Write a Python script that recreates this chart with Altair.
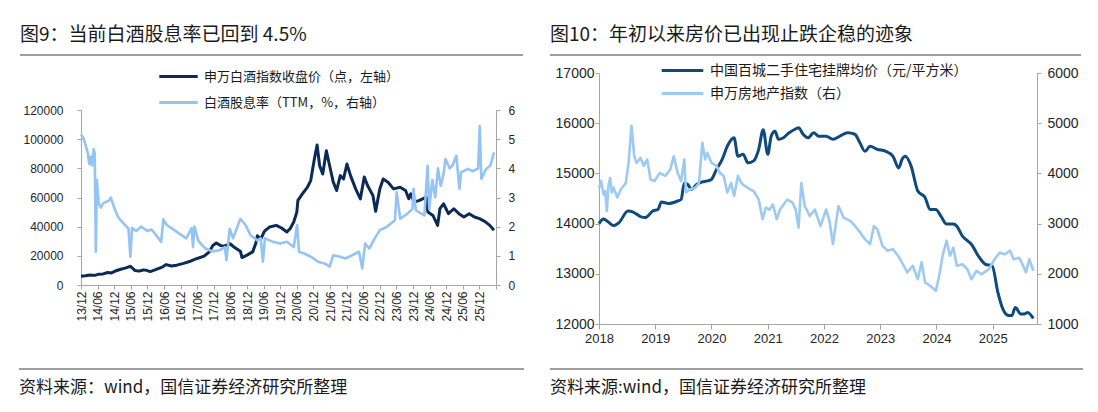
import altair as alt
import pandas as pd

CJK = "Noto Sans CJK SC"
NUM = "Liberation Sans"
TXT = "#1a1a1a"
AXC = "#a6a6a6"

# ---------------- 图9 data ----------------
title9 = "图9：当前白酒股息率已回到 4.5%"
source9 = "资料来源：wind，国信证券经济研究所整理"
name9_index = "申万白酒指数收盘价（点，左轴）"
name9_yield = "白酒股息率（TTM，%，右轴）"

idx_dates = [
    "2013-12-01", "2014-01-16", "2014-03-16", "2014-05-01", "2014-06-07", "2014-08-01",
    "2014-09-22", "2014-11-01", "2014-12-07", "2015-02-01", "2015-04-01", "2015-05-25",
    "2015-06-16", "2015-07-16", "2015-09-01", "2015-10-16", "2015-11-13", "2016-01-01",
    "2016-03-01", "2016-05-19", "2016-06-25", "2016-08-22", "2016-10-19", "2017-01-01",
    "2017-03-19", "2017-06-01", "2017-08-16", "2017-10-13", "2017-11-19", "2017-12-28",
    "2018-02-16", "2018-04-01", "2018-05-28", "2018-07-22", "2018-09-19", "2018-10-07",
    "2018-12-01", "2019-02-01", "2019-03-07", "2019-03-25", "2019-05-01", "2019-06-10",
    "2019-08-07", "2019-10-19", "2019-12-16", "2020-02-13", "2020-03-19", "2020-04-28",
    "2020-06-01", "2020-06-13", "2020-08-01", "2020-09-25", "2020-11-01", "2020-12-10",
    "2021-01-10", "2021-02-07", "2021-03-13", "2021-04-22", "2021-05-28", "2021-07-07",
    "2021-08-13", "2021-09-22", "2021-10-28", "2021-12-04", "2022-01-13", "2022-03-10",
    "2022-05-01", "2022-06-13", "2022-07-19", "2022-09-16", "2022-10-16", "2022-12-01",
    "2023-01-07", "2023-03-01", "2023-05-01", "2023-07-13", "2023-09-10", "2023-10-16",
    "2023-11-07", "2023-12-13", "2024-02-10", "2024-04-25", "2024-05-13", "2024-07-07",
    "2024-08-28", "2024-09-22", "2024-11-01", "2024-12-25", "2025-02-22", "2025-04-19",
    "2025-06-13", "2025-08-10", "2025-10-07", "2025-12-01", "2026-01-28", "2026-03-25",
    "2026-05-10",
]
idx_values = [
    6000, 6300, 6800, 6600, 7300, 7600,
    8600, 8300, 9400, 10600, 11600, 12800,
    11800, 10000, 9500, 10300, 10200, 9200,
    10500, 12500, 14000, 13000, 13600, 14800,
    16300, 18200, 19800, 22700, 27000, 28800,
    27000, 26800, 28300, 25500, 23200, 18800,
    20500, 22700, 28400, 33800, 31500, 36800,
    39800, 40900, 39100, 36400, 38600, 43200,
    50000, 58000, 62500, 67000, 71600, 86000,
    96000, 81800, 76100, 92000, 81800, 70500,
    64800, 75000, 72700, 83000, 75000, 65900,
    59100, 74000, 68200, 61400, 50500, 65900,
    72700, 70500, 65900, 67000, 64800, 59100,
    62500, 56800, 58000, 60200, 50000, 47700,
    40900, 52300, 55700, 48900, 52300, 48900,
    46600, 48900, 46600, 45500, 43600, 40900,
    37500,
]

yld_dates = [
    "2013-12-01", "2013-12-25", "2014-01-16", "2014-02-16", "2014-03-01", "2014-03-16",
    "2014-04-01", "2014-04-19", "2014-05-01", "2014-05-13", "2014-05-25", "2014-06-13",
    "2014-07-07", "2014-08-01", "2014-10-07", "2014-10-25", "2014-12-07", "2015-01-10",
    "2015-02-01", "2015-04-01", "2015-05-07", "2015-05-28", "2015-06-16", "2015-08-01",
    "2015-09-22", "2015-12-01", "2016-01-16", "2016-02-13", "2016-04-01", "2016-05-01",
    "2016-05-25", "2016-07-01", "2016-09-01", "2016-11-16", "2017-02-01", "2017-04-01",
    "2017-04-16", "2017-05-01", "2017-06-16", "2017-09-01", "2017-11-16", "2018-02-01",
    "2018-04-01", "2018-04-19", "2018-05-25", "2018-07-01", "2018-09-19", "2018-11-16",
    "2019-01-10", "2019-03-25", "2019-05-01", "2019-05-25", "2019-06-16", "2019-09-13",
    "2019-11-28", "2020-02-13", "2020-04-28", "2020-06-04", "2020-06-25", "2020-08-19",
    "2020-11-04", "2021-01-19", "2021-04-01", "2021-05-28", "2021-07-07", "2021-09-22",
    "2021-11-16", "2022-02-01", "2022-04-16", "2022-05-22", "2022-06-22", "2022-08-07",
    "2022-10-04", "2022-12-01", "2023-02-13", "2023-05-16", "2023-06-04", "2023-07-13",
    "2023-09-28", "2023-11-25", "2023-12-07", "2024-01-01", "2024-04-04", "2024-05-10",
    "2024-05-28", "2024-07-01", "2024-08-01", "2024-09-01", "2024-10-01", "2024-11-01",
    "2024-11-22", "2025-01-07", "2025-02-07", "2025-03-22", "2025-04-25", "2025-05-13",
    "2025-07-25", "2025-09-16", "2025-11-16", "2025-12-04", "2025-12-22", "2026-02-13",
    "2026-04-01", "2026-05-10",
]
yld_values = [
    5.17, 5.05, 4.85, 4.50, 4.15, 4.40,
    4.10, 4.66, 4.50, 1.14, 3.60, 2.80,
    2.65, 2.80, 2.90, 3.00, 2.60, 2.35,
    2.25, 2.05, 1.93, 0.97, 1.95, 1.85,
    2.00, 1.85, 1.90, 1.80, 1.60, 1.48,
    2.25, 2.05, 1.93, 1.76, 1.60, 1.95,
    1.30, 2.00, 1.50, 1.25, 1.15, 1.19,
    1.30, 0.85, 1.93, 1.60, 2.27, 2.05,
    1.70, 1.53, 1.60, 0.80, 1.60, 1.48,
    1.42, 1.48, 1.30, 2.05, 1.14, 1.08,
    0.97, 0.80, 0.74, 0.63, 1.02, 0.97,
    0.91, 1.02, 1.14, 0.57, 1.42, 1.25,
    1.59, 1.88, 1.99, 2.22, 3.18, 2.27,
    2.44, 2.61, 3.30, 2.56, 2.39, 4.09,
    2.60, 3.60, 3.00, 4.00, 3.40, 3.80,
    4.32, 4.00, 4.09, 4.43, 3.30, 3.86,
    3.98, 3.90, 4.00, 5.45, 3.64, 3.98,
    4.10, 4.55,
]

ticks9 = [
    "2013-12", "2014-06", "2014-12", "2015-06", "2015-12", "2016-06", "2016-12",
    "2017-06", "2017-12", "2018-06", "2018-12", "2019-06", "2019-12", "2020-06",
    "2020-12", "2021-06", "2021-12", "2022-06", "2022-12", "2023-06", "2023-12",
    "2024-06", "2024-12", "2025-06", "2025-12", "2026-06",
]
left9_ticks = [0, 20000, 40000, 60000, 80000, 100000, 120000]
right9_ticks = [0, 1, 2, 3, 4, 5, 6]

# ---------------- 图10 data ----------------
title10 = "图10：年初以来房价已出现止跌企稳的迹象"
source10 = "资料来源:wind，国信证券经济研究所整理"
name10_price = "中国百城二手住宅挂牌均价（元/平方米）"
name10_index = "申万房地产指数（右）"

price_dates = [
    "2018-01-01", "2018-01-30", "2018-03-03", "2018-04-05", "2018-05-11", "2018-07-08",
    "2018-08-11", "2018-09-27", "2018-10-30", "2018-12-16", "2019-01-19", "2019-02-10",
    "2019-03-29", "2019-05-27", "2019-06-18", "2019-07-09", "2019-07-31", "2019-08-25",
    "2019-09-27", "2019-11-02", "2019-12-05", "2020-01-01", "2020-02-03", "2020-03-11",
    "2020-04-13", "2020-05-27", "2020-06-21", "2020-07-24", "2020-08-26", "2020-10-01",
    "2020-11-03", "2020-12-02", "2021-01-01", "2021-01-23", "2021-02-17", "2021-03-11",
    "2021-04-13", "2021-05-19", "2021-06-21", "2021-07-20", "2021-08-18", "2021-09-20",
    "2021-10-26", "2021-11-28", "2022-01-15", "2022-02-28", "2022-04-13", "2022-06-03",
    "2022-07-20", "2022-08-22", "2022-09-24", "2022-10-27", "2022-12-13", "2023-02-06",
    "2023-03-25", "2023-05-01", "2023-05-23", "2023-06-14", "2023-07-20", "2023-09-02",
    "2023-10-19", "2023-11-21", "2023-12-28", "2024-01-30", "2024-03-07", "2024-04-20",
    "2024-05-12", "2024-06-18", "2024-07-20", "2024-08-15", "2024-09-28", "2024-11-14",
    "2024-12-28", "2025-02-03", "2025-03-07", "2025-04-13", "2025-05-05", "2025-05-27",
    "2025-07-02", "2025-07-24", "2025-08-15", "2025-09-21",
]
price_values = [
    14000, 14090, 14030, 13960, 14020, 14250,
    14230, 14140, 14120, 14250, 14280, 14430,
    14400, 14450, 14480, 14810, 14780, 14680,
    14780, 14830, 14850, 14880, 15080, 15280,
    15540, 15710, 15340, 15380, 15210, 15250,
    15480, 15870, 15380, 15740, 15840, 15680,
    15710, 15810, 15870, 15910, 15780, 15710,
    15810, 15740, 15740, 15680, 15740, 15810,
    15780, 15610, 15440, 15540, 15480, 15440,
    15340, 15110, 15280, 15340, 15150, 14650,
    14520, 14280, 14280, 14150, 13990, 13990,
    13950, 13750, 13660, 13590, 13360, 13190,
    13160, 12630, 12300, 12170, 12170, 12330,
    12200, 12200, 12230, 12110,
]

re_dates = [
    "2018-01-01", "2018-01-15", "2018-01-30", "2018-02-10", "2018-02-21", "2018-03-03",
    "2018-03-14", "2018-03-25", "2018-04-05", "2018-04-30", "2018-05-22", "2018-06-24",
    "2018-07-12", "2018-07-31", "2018-08-18", "2018-09-02", "2018-09-27", "2018-10-19",
    "2018-11-10", "2018-12-02", "2018-12-28", "2019-01-30", "2019-03-07", "2019-04-09",
    "2019-05-01", "2019-05-27", "2019-06-18", "2019-07-09", "2019-07-20", "2019-08-15",
    "2019-09-20", "2019-10-12", "2019-11-03", "2019-11-21", "2019-12-05", "2020-01-01",
    "2020-02-03", "2020-02-25", "2020-03-21", "2020-04-13", "2020-05-08", "2020-05-27",
    "2020-06-21", "2020-07-13", "2020-08-04", "2020-09-09", "2020-10-01", "2020-11-03",
    "2020-11-28", "2020-12-20", "2021-01-12", "2021-02-03", "2021-02-28", "2021-03-21",
    "2021-05-08", "2021-06-10", "2021-07-01", "2021-07-20", "2021-08-07", "2021-08-29",
    "2021-10-01", "2021-11-03", "2021-12-09", "2022-01-15", "2022-02-06", "2022-02-28",
    "2022-04-05", "2022-05-08", "2022-06-24", "2022-08-07", "2022-09-24", "2022-10-27",
    "2022-11-21", "2022-12-13", "2023-01-15", "2023-02-17", "2023-03-25", "2023-04-27",
    "2023-06-03", "2023-06-25", "2023-07-31", "2023-09-02", "2023-09-27", "2023-10-19",
    "2023-11-21", "2023-12-28", "2024-01-19", "2024-02-10", "2024-03-07", "2024-03-29",
    "2024-04-20", "2024-05-12", "2024-06-18", "2024-07-20", "2024-08-15", "2024-09-17",
    "2024-10-19", "2024-12-06", "2025-01-12", "2025-02-14", "2025-03-21", "2025-04-23",
    "2025-05-16", "2025-06-21", "2025-07-13", "2025-08-04", "2025-08-26", "2025-09-21",
]
re_values = [
    3700, 3850, 3580, 3650, 3250, 3750,
    3910, 3620, 3720, 3520, 3680, 3810,
    4210, 4950, 4340, 4210, 4310, 4150,
    4280, 3880, 3850, 4010, 3950, 4080,
    4340, 4010, 3850, 4280, 3620, 3680,
    3720, 3810, 4610, 4280, 4410, 4210,
    4150, 4010, 3950, 3620, 3810, 3550,
    3950, 3810, 3750, 3680, 3650, 3480,
    3090, 3320, 3280, 3380, 3090, 3280,
    3480, 3420, 3280, 2920, 3810, 3350,
    3150, 3280, 2950, 3280, 3050, 2590,
    3350, 3120, 3050, 2890, 2690, 2590,
    2950, 2890, 2560, 2460, 2490, 2360,
    2160, 2030, 2160, 1890, 2230, 1830,
    1760, 1660, 1960, 2360, 2660, 2360,
    2520, 2160, 2190, 2090, 1890, 2060,
    1990, 2090, 2290, 2420, 2390, 2460,
    2290, 2320, 2190, 2030, 2290, 2060,
]

ticks10 = ["2018", "2019", "2020", "2021", "2022", "2023", "2024", "2025"]
left10_ticks = [12000, 13000, 14000, 15000, 16000, 17000]
right10_ticks = [1000, 2000, 3000, 4000, 5000, 6000]


def dt(s):
    parts = [int(p) for p in s.split("-")]
    while len(parts) < 3:
        parts.append(1)
    return alt.DateTime(year=parts[0], month=parts[1], date=parts[2], utc=True)


def text_layer(txt, x, y, size):
    return alt.Chart(pd.DataFrame({"t": [txt]})).mark_text(
        align="left", baseline="middle", font=CJK, fontSize=size, color=TXT
    ).encode(x=alt.value(x), y=alt.value(y), text="t:N")


def hrule(x1, x2, y):
    return alt.Chart(pd.DataFrame({"k": [0]})).mark_rule(
        color="#7f7f7f", strokeWidth=1.5
    ).encode(x=alt.value(x1), x2=alt.value(x2), y=alt.value(y))


def yaxis(orient, values, pad, size):
    return alt.Axis(
        orient=orient, values=values, format="d", title=None, grid=False,
        labelFont=NUM, labelFontSize=size, labelColor="#262626", labelPadding=pad,
        tickSize=4, tickColor=AXC, domainColor=AXC, labelFlush=False,
    )


# ---------------- panel 9 ----------------
W9, H9 = 415, 212
TOP9 = 37
df9a = pd.DataFrame({"date": idx_dates, "value": idx_values, "series": name9_index})
df9b = pd.DataFrame({"date": yld_dates, "value": yld_values, "series": name9_yield})

x9 = alt.X(
    "date:T",
    scale=alt.Scale(type="utc", domain=[dt("2013-12-01"), dt("2026-06-01")]),
    axis=alt.Axis(
        values=[dt(t) for t in ticks9], title=None, grid=False,
        labelExpr="utcFormat(datum.value, '%y/%m') == '26/06' ? '' : utcFormat(datum.value, '%y/%m')",
        labelAngle=-90, labelFont=NUM, labelFontSize=12, labelColor="#262626",
        labelPadding=2, tickSize=4, tickColor=AXC, domainColor=AXC,
        labelOverlap=False, labelFlush=False,
    ),
)
col9 = alt.Scale(domain=[name9_index, name9_yield], range=["#0b2a55", "#93c4f3"])
leg9 = alt.Legend(
    title=None, orient="none", legendX=88, legendY=-6, direction="vertical",
    symbolType="M-2.4,0H2.4", symbolSize=256, symbolStrokeWidth=3,
    labelFont=CJK, labelFontSize=13, labelColor=TXT, labelOffset=16,
    rowPadding=9, padding=0, labelLimit=600,
)
l9a = alt.Chart(df9a).mark_line(strokeWidth=3, strokeJoin="round").encode(
    x=x9,
    y=alt.Y("value:Q", scale=alt.Scale(domain=[0, 120000], range=[H9, TOP9]),
            axis=yaxis("left", left9_ticks, 14, 12)),
    color=alt.Color("series:N", scale=col9, legend=leg9),
)
l9b = alt.Chart(df9b).mark_line(strokeWidth=2.6, strokeJoin="round").encode(
    x=x9,
    y=alt.Y("value:Q", scale=alt.Scale(domain=[0, 6], range=[H9, TOP9]),
            axis=yaxis("right", right9_ticks, 8, 12)),
    color=alt.Color("series:N", scale=col9, legend=leg9),
)
panel9 = alt.layer(
    l9a, l9b,
    text_layer(title9, -61, -38, 19),
    hrule(-61, 442, -18),
    hrule(-62, 443, 296),
    text_layer(source9, -62, 315, 17),
).resolve_scale(y="independent").properties(width=W9, height=H9)

# ---------------- panel 10 ----------------
W10, H10 = 438, 251
df10a = pd.DataFrame({"date": price_dates, "value": price_values, "series": name10_price})
df10b = pd.DataFrame({"date": re_dates, "value": re_values, "series": name10_index})

x10 = alt.X(
    "date:T",
    scale=alt.Scale(type="utc", domain=[dt("2018-01-01"), dt("2025-10-15")]),
    axis=alt.Axis(
        values=[dt(t) for t in ticks10], format="%Y", title=None, grid=False,
        labelFont=NUM, labelFontSize=13, labelColor="#262626", labelPadding=3,
        tickSize=5, tickColor=AXC, domainColor=AXC, labelFlush=False,
    ),
)
col10 = alt.Scale(domain=[name10_price, name10_index], range=["#0e4a7c", "#9dcaf3"])
leg10 = alt.Legend(
    title=None, orient="none", legendX=74, legendY=-12, direction="vertical",
    symbolType="M-2.6,0H2.6", symbolSize=256, symbolStrokeWidth=3,
    labelFont=CJK, labelFontSize=14, labelColor=TXT, labelOffset=18,
    rowPadding=6, padding=0, labelLimit=600,
)
l10a = alt.Chart(df10a).mark_line(strokeWidth=3, interpolate="monotone").encode(
    x=x10,
    y=alt.Y("value:Q", scale=alt.Scale(domain=[12000, 17000]),
            axis=yaxis("left", left10_ticks, 1, 14)),
    color=alt.Color("series:N", scale=col10, legend=leg10),
)
l10b = alt.Chart(df10b).mark_line(strokeWidth=2.6, strokeJoin="round").encode(
    x=x10,
    y=alt.Y("value:Q", scale=alt.Scale(domain=[1000, 6000]),
            axis=yaxis("right", right10_ticks, 6, 14)),
    color=alt.Color("series:N", scale=col10, legend=leg10),
)
panel10 = alt.layer(
    l10a, l10b,
    text_layer(title10, -49, -38, 19),
    hrule(-49, 482, -18),
    hrule(-49, 484, 296),
    text_layer(source10, -49, 315, 17),
).resolve_scale(y="independent").properties(width=W10, height=H10)

chart = alt.hconcat(panel9, panel10, spacing=24).resolve_scale(
    color="independent"
).resolve_legend(color="independent").properties(
    padding={"left": 10, "top": 18, "right": 4, "bottom": 4},
    background="white",
).configure_view(strokeWidth=0)

chart.save("out.html", embed_options={"renderer": "svg", "actions": False})
